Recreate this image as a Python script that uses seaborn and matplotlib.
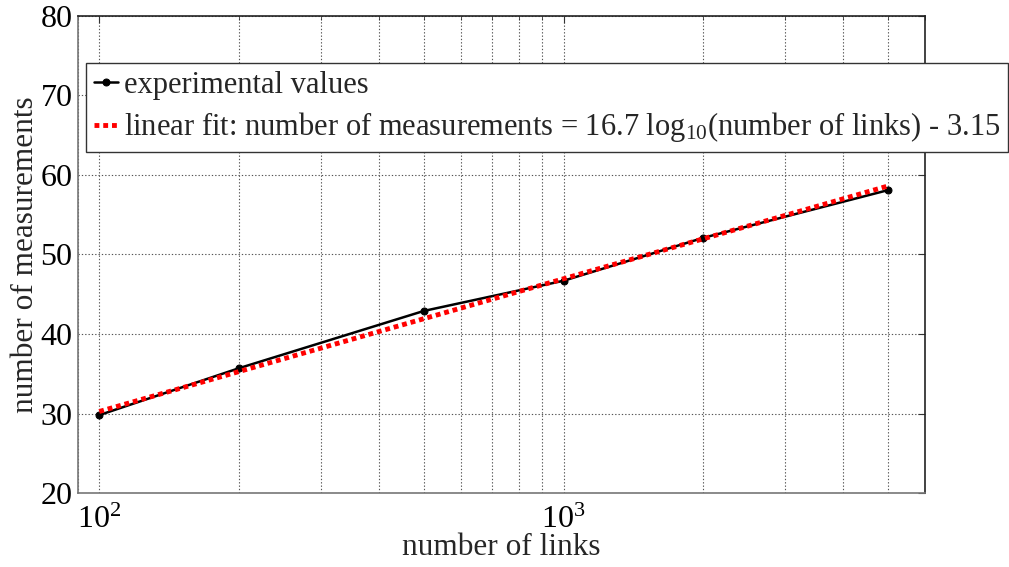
import numpy as np
import pandas as pd
import matplotlib
matplotlib.use("Agg")
import matplotlib.pyplot as plt
import seaborn as sns
from matplotlib.ticker import LogLocator, NullFormatter, FixedLocator

# Measured data
links = [100, 200, 500, 1000, 2000, 5000]
measurements = [29.8, 35.7, 42.9, 46.7, 52.1, 58.1]

# Fit coefficients: measurements = a*log10(links) + b
fit_a = 16.7
fit_b = -3.15

sns.set_style("white")
plt.rcParams["font.family"] = ["Liberation Serif", "DejaVu Serif"]
plt.rcParams["mathtext.fontset"] = "custom"
plt.rcParams["mathtext.rm"] = "Liberation Serif"
plt.rcParams["mathtext.it"] = "Liberation Serif:italic"

fig = plt.figure(figsize=(10.09, 5.67), dpi=100)
ax = fig.add_axes([0.0773, 0.1305, 0.8394, 0.8413])

df = pd.DataFrame({"links": links, "measurements": measurements})
fit_x = np.array(links, dtype=float)
fit_df = pd.DataFrame({"links": fit_x, "fit": fit_a * np.log10(fit_x) + fit_b})

sns.lineplot(data=df, x="links", y="measurements", ax=ax, color="black",
             linewidth=1.8, marker="o", markersize=5, markeredgecolor="black",
             label="experimental values", zorder=3)
sns.lineplot(data=fit_df, x="links", y="fit", ax=ax, color="#ff0000",
             linewidth=3.5, linestyle=(0, (1.0, 0.8)),
             label=r"linear fit: number of measurements = 16.7 log$_{10}$(number of links) - 3.15",
             zorder=4)

ax.set_xscale("log")
ax.set_xlim(90, 6000)
ax.set_ylim(20, 80)
ax.yaxis.set_major_locator(FixedLocator([20, 30, 40, 50, 60, 70, 80]))
ax.xaxis.set_major_locator(LogLocator(base=10))
ax.xaxis.set_minor_locator(LogLocator(base=10, subs=np.arange(2, 10)))
ax.xaxis.set_minor_formatter(NullFormatter())

grid_kw = dict(color="#555555", linestyle=(0, (1.2, 1.8)), linewidth=0.8)
ax.grid(True, which="major", axis="both", **grid_kw)
ax.grid(True, which="minor", axis="x", **grid_kw)

ax.tick_params(axis="both", which="both", direction="in", top=True, right=True,
               labelsize=23, colors="#333333", labelcolor="black")
ax.tick_params(axis="both", which="major", length=5)
ax.tick_params(axis="y", which="major", pad=4)
ax.tick_params(axis="x", which="major", pad=9)
ax.tick_params(axis="x", which="minor", length=3)
for side in ["left", "bottom"]:
    ax.spines[side].set_color("#777777")
    ax.spines[side].set_linewidth(1.2)
for side in ["top", "right"]:
    ax.spines[side].set_color("#222222")
    ax.spines[side].set_linewidth(1.2)

ax.set_xlabel("number of links", fontsize=22.5, labelpad=-1)
ax.set_ylabel("number of measurements", fontsize=22.5, labelpad=0)

leg = ax.legend(loc="upper left", bbox_to_anchor=(0.0852, 0.889),
                bbox_transform=fig.transFigure, borderaxespad=0,
                fontsize=22, frameon=True, fancybox=False, framealpha=1,
                edgecolor="#333333", handlelength=0.8, handletextpad=0.2,
                borderpad=0.25, labelspacing=0.35)
leg.get_frame().set_linewidth(1.0)

fig.savefig("out.png", dpi=100)
